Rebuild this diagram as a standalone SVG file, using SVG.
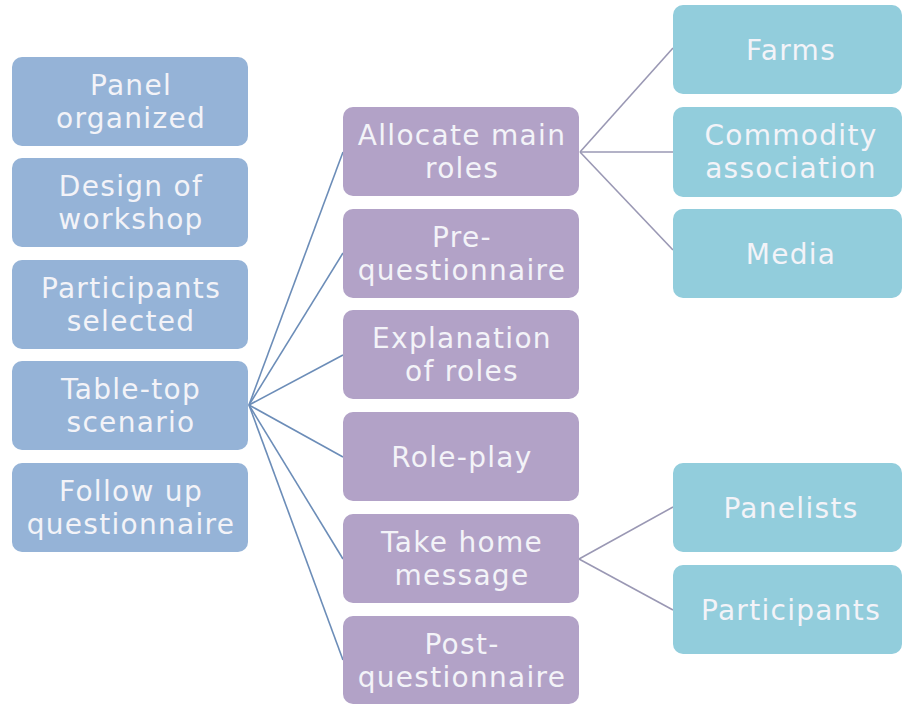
<svg xmlns="http://www.w3.org/2000/svg" width="902" height="706" viewBox="0 0 902 706">
<style>
  .b rect { fill: #95B3D7; }
  .p rect { fill: #B2A2C7; }
  .a rect { fill: #92CDDC; }
  text { font-family: "DejaVu Sans", "Open Sans", sans-serif; font-size: 28px; letter-spacing: 1.3px; fill: #F3F3F8; text-anchor: middle; }
  .c1 line { stroke: #6C8DB8; stroke-width: 1.6; }
  .c2 line { stroke: #9A98B4; stroke-width: 1.6; }
</style>
<rect width="902" height="706" fill="#FFFFFF"/>
<g id="connectors">
  <g class="c1">
    <line x1="249" y1="405" x2="343" y2="152"/>
    <line x1="249" y1="405" x2="343" y2="253"/>
    <line x1="249" y1="405" x2="343" y2="355"/>
    <line x1="249" y1="405" x2="343" y2="457"/>
    <line x1="249" y1="405" x2="343" y2="559"/>
    <line x1="249" y1="405" x2="343" y2="660"/>
  </g>
  <g class="c2">
    <line x1="580" y1="152" x2="673" y2="48"/>
    <line x1="580" y1="152" x2="673" y2="152"/>
    <line x1="580" y1="152" x2="673" y2="250"/>
    <line x1="579" y1="559" x2="673" y2="507"/>
    <line x1="579" y1="559" x2="673" y2="610"/>
  </g>
</g>
<g id="panel-organized" class="b"><rect x="12" y="57" width="236" height="89" rx="10"/><text x="131" y="95">Panel</text><text x="131" y="128">organized</text></g>
<g id="design-of-workshop" class="b"><rect x="12" y="158" width="236" height="89" rx="10"/><text x="131" y="196">Design of</text><text x="131" y="229">workshop</text></g>
<g id="participants-selected" class="b"><rect x="12" y="260" width="236" height="89" rx="10"/><text x="131" y="298">Participants</text><text x="131" y="331">selected</text></g>
<g id="table-top-scenario" class="b"><rect x="12" y="361" width="236" height="89" rx="10"/><text x="131" y="399">Table-top</text><text x="131" y="432">scenario</text></g>
<g id="follow-up-questionnaire" class="b"><rect x="12" y="463" width="236" height="89" rx="10"/><text x="131" y="501">Follow up</text><text x="131" y="534">questionnaire</text></g>

<g id="allocate-main-roles" class="p"><rect x="343" y="107" width="236" height="89" rx="10"/><text x="462" y="145">Allocate main</text><text x="462" y="178">roles</text></g>
<g id="pre-questionnaire" class="p"><rect x="343" y="209" width="236" height="89" rx="10"/><text x="462" y="247">Pre-</text><text x="462" y="280">questionnaire</text></g>
<g id="explanation-of-roles" class="p"><rect x="343" y="310" width="236" height="89" rx="10"/><text x="462" y="348">Explanation</text><text x="462" y="381">of roles</text></g>
<g id="role-play" class="p"><rect x="343" y="412" width="236" height="89" rx="10"/><text x="462" y="467">Role-play</text></g>
<g id="take-home-message" class="p"><rect x="343" y="514" width="236" height="89" rx="10"/><text x="462" y="552">Take home</text><text x="462" y="585">message</text></g>
<g id="post-questionnaire" class="p"><rect x="343" y="616" width="236" height="88" rx="10"/><text x="462" y="654">Post-</text><text x="462" y="687">questionnaire</text></g>

<g id="farms" class="a"><rect x="673" y="5" width="229" height="89" rx="10"/><text x="791" y="60">Farms</text></g>
<g id="commodity-association" class="a"><rect x="673" y="107" width="229" height="90" rx="10"/><text x="791" y="145">Commodity</text><text x="791" y="178">association</text></g>
<g id="media" class="a"><rect x="673" y="209" width="229" height="89" rx="10"/><text x="791" y="264">Media</text></g>
<g id="panelists" class="a"><rect x="673" y="463" width="229" height="89" rx="10"/><text x="791" y="518">Panelists</text></g>
<g id="participants" class="a"><rect x="673" y="565" width="229" height="89" rx="10"/><text x="791" y="620">Participants</text></g>
</svg>
